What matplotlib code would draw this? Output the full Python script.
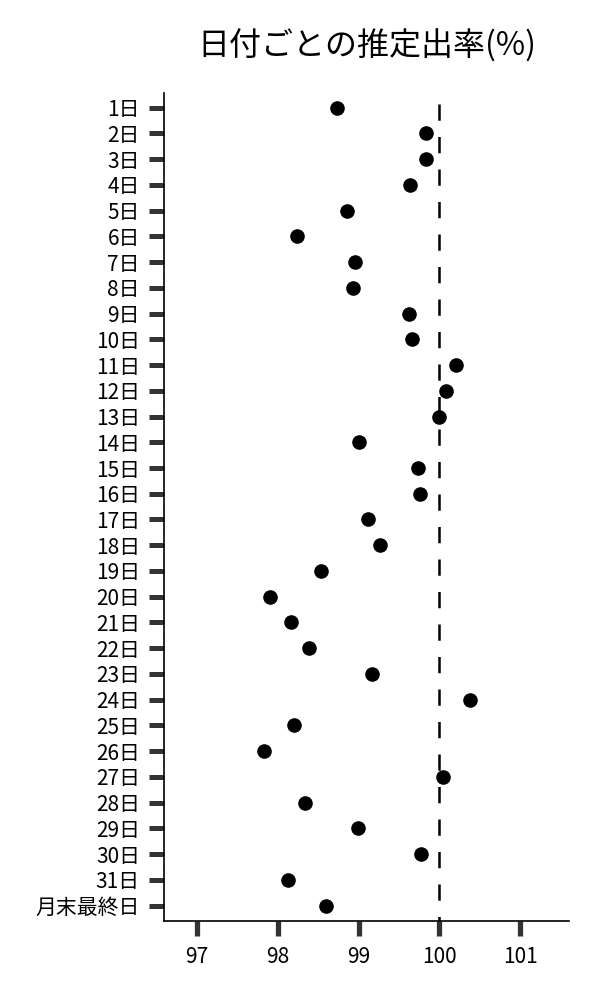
import matplotlib.pyplot as plt

plt.rcParams['font.family'] = ['Noto Sans CJK JP', 'DejaVu Sans']

days = [f'{i}日' for i in range(1, 32)] + ['月末最終日']
rates = [98.74, 99.83, 99.83, 99.64, 98.86, 98.24, 98.96, 98.93, 99.63, 99.66,
         100.20, 100.08, 100.00, 99.01, 99.74, 99.76, 99.12, 99.27, 98.54, 97.90,
         98.17, 98.39, 99.17, 100.38, 98.20, 97.83, 100.05, 98.34, 98.99, 99.77,
         98.13, 98.60]
xticks = [97, 98, 99, 100, 101]
ref_rate = 100

fig = plt.figure(figsize=(6, 10), dpi=100)
ax = fig.add_axes([0.274, 0.079, 0.674, 0.828])

ypos = list(range(len(days)))
ax.scatter(rates, ypos, s=90, color='black', zorder=3)
ax.vlines(ref_rate, -0.13, 31.6, colors='black', lw=1.8,
          linestyles=(0, (6.5, 6.5)), zorder=2)

ax.set_xlim(96.6, 101.6)
ax.set_ylim(31.6, -0.57)
ax.set_yticks(ypos)
ax.set_yticklabels(days)
ax.set_xticks(xticks)
ax.set_xticklabels([str(v) for v in xticks])

for side in ['top', 'right']:
    ax.spines[side].set_visible(False)
for side in ['left', 'bottom']:
    ax.spines[side].set_linewidth(1.2)

ax.tick_params(axis='y', length=10.6, width=3.6, color='#333333', pad=7, labelsize=15)
ax.tick_params(axis='x', length=10.8, width=3.8, color='#333333', pad=7, labelsize=15)

ax.set_title('日付ごとの推定出率(%)', fontsize=23, pad=27)

fig.savefig('out.png', dpi=100)
